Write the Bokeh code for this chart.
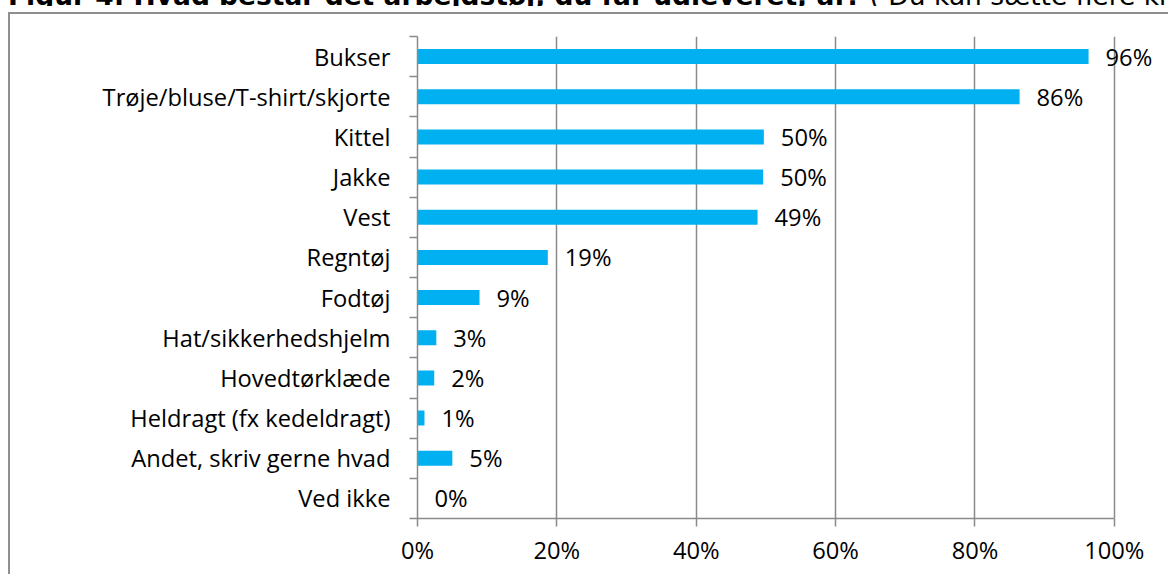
from bokeh.plotting import figure
from bokeh.models import Range1d, FixedTicker, ColumnDataSource, Div
from bokeh.layouts import column
from bokeh.embed import file_html
from bokeh.resources import INLINE
from bokeh.core.properties import value

# ---------------- data ----------------
categories = ["Bukser", "Trøje/bluse/T-shirt/skjorte", "Kittel", "Jakke", "Vest",
              "Regntøj", "Fodtøj", "Hat/sikkerhedshjelm", "Hovedtørklæde",
              "Heldragt (fx kedeldragt)", "Andet, skriv gerne hvad", "Ved ikke"]
values = [96.3, 86.4, 49.7, 49.6, 48.8, 18.7, 8.9, 2.7, 2.4, 1.0, 5.0, 0.0]
value_labels = ["96%", "86%", "50%", "50%", "49%", "19%", "9%", "3%", "2%", "1%", "5%", "0%"]
x_ticks = [0, 20, 40, 60, 80, 100]
x_tick_labels = ["0%", "20%", "40%", "60%", "80%", "100%"]
title_main = "Figur 4: Hvad består det arbejdstøj, du får udleveret, af?"
title_note = "( Du kan sætte flere kryds)"

# ---------------- layout (pixels) ----------------
TITLE_H = 24                 # title strip height (its top lies above the page)
CANVAS_W, CANVAS_H = 1158, 560
FRAME_LEFT, FRAME_TOP = 407, 22
FRAME_H = 480
PX_PER_PCT = 6.95            # 100 % spans 695 px
FRAME_W = CANVAS_W - FRAME_LEFT
X_END = FRAME_W / PX_PER_PCT
N = len(categories)

FONT = "Open Sans"
FS = "23.7px"
GRAY = "#8a8a8a"
BORDER = "#8f8f8f"
BAR = "#00B0F0"

centers = [i + 0.5 for i in range(N)]
source = ColumnDataSource(dict(y=centers, v=values, lab=value_labels))

p = figure(frame_width=FRAME_W, frame_height=FRAME_H,
           min_border_left=FRAME_LEFT, min_border_right=0,
           min_border_top=FRAME_TOP, min_border_bottom=CANVAS_H - FRAME_TOP - FRAME_H,
           x_range=Range1d(0, X_END), y_range=Range1d(N, 0),
           output_backend="svg", toolbar_location=None, tools="")
p.styles = {"margin-left": "8px",
            "border-left": "2px solid " + BORDER,
            "border-top": "2px solid " + BORDER}
p.outline_line_color = None
p.background_fill_color = "white"
p.border_fill_color = "white"

# bars
p.hbar(y="y", left=0, right="v", height=0.375, source=source,
       fill_color=BAR, line_color=None)

# value labels
p.text(x="v", y="y", text="lab", source=source, x_offset=17, y_offset=0,
       text_align="left", text_baseline="middle",
       text_font=value(FONT), text_font_size=FS, text_color="#000000")

# x axis
xa = p.xaxis[0]
xa.ticker = FixedTicker(ticks=x_ticks)
xa.bounds = (x_ticks[0], x_ticks[-1])
xa.major_label_overrides = {t: l for t, l in zip(x_ticks, x_tick_labels)}
xa.axis_line_color = GRAY
xa.axis_line_width = 1.5
xa.major_tick_line_color = GRAY
xa.major_tick_line_width = 1.5
xa.major_tick_out = 8
xa.major_tick_in = 0
xa.minor_tick_line_color = None
xa.major_label_standoff = 7
xa.major_label_text_font = FONT
xa.major_label_text_font_size = FS
xa.major_label_text_color = "#000000"

# y axis
ya = p.yaxis[0]
ya.ticker = FixedTicker(ticks=centers, minor_ticks=list(range(N + 1)))
ya.major_label_overrides = {c: cat for c, cat in zip(centers, categories)}
ya.axis_line_color = GRAY
ya.axis_line_width = 1.5
ya.major_tick_line_color = None
ya.major_tick_out = 0
ya.major_tick_in = 0
ya.minor_tick_line_color = GRAY
ya.minor_tick_line_width = 1.5
ya.minor_tick_out = 8
ya.minor_tick_in = 0
ya.major_label_standoff = 19
ya.major_label_text_font = FONT
ya.major_label_text_font_size = FS
ya.major_label_text_color = "#000000"

# grid
p.xgrid.ticker = FixedTicker(ticks=x_ticks[1:])
p.xgrid.bounds = (x_ticks[0], x_ticks[-1])
p.xgrid.grid_line_color = GRAY
p.xgrid.grid_line_width = 1.5
p.ygrid.grid_line_color = None

# title (its upper part lies above the visible page, as in the reference)
title_html = (
    '<div style="white-space:nowrap;overflow:hidden;width:1160px;margin:-2px 0 0 8px;'
    'font-family:\'DejaVu Sans\';font-size:26.5px;line-height:20px;color:#000;">'
    '<span style="font-weight:bold;">' + title_main + '</span> '
    '<span>' + title_note + '</span></div>'
)
title_div = Div(text=title_html, width=1168, height=TITLE_H,
                styles={"margin": "0", "padding": "0"})

root = column(title_div, p, spacing=0, styles={"margin-top": "-12px"})

open("out.html", "w").write(file_html(root, INLINE))
